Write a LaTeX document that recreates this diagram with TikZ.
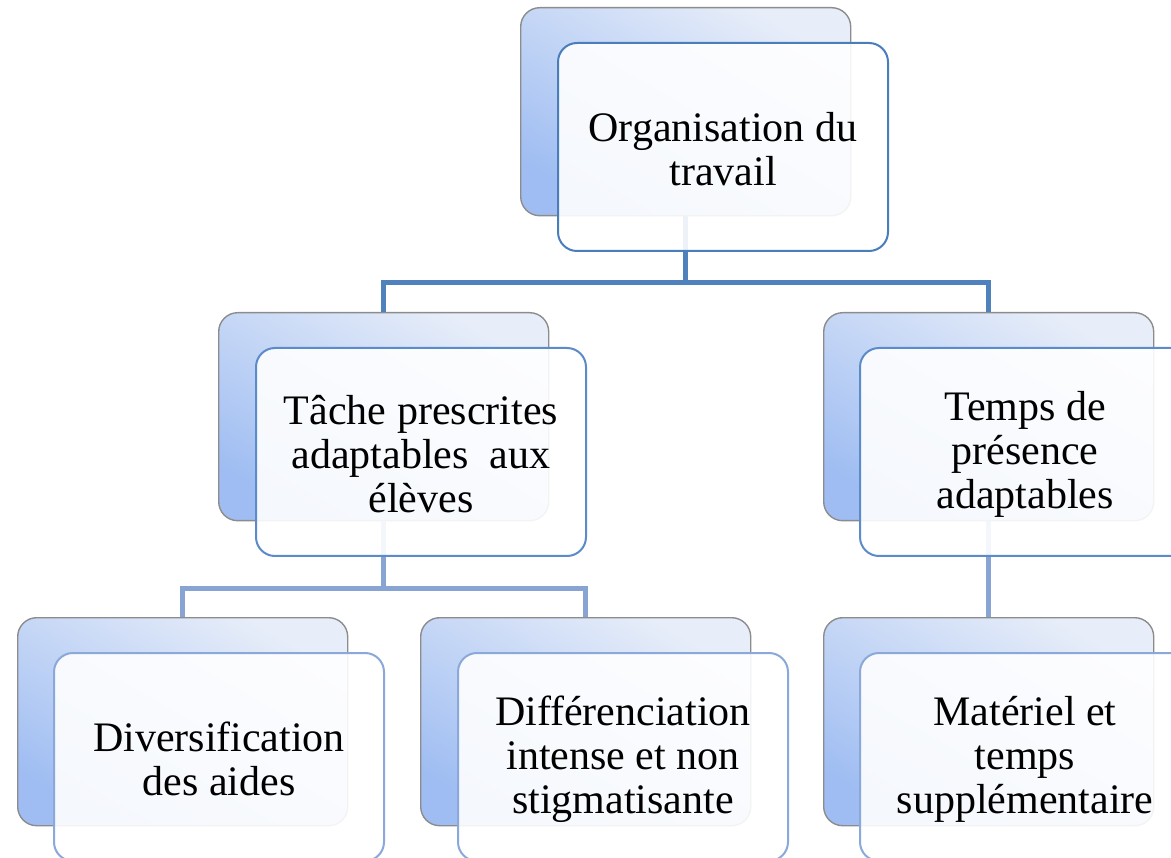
\documentclass[tikz,border=0pt]{standalone}
\usepackage{fontspec}
\setmainfont{Liberation Serif}
\definecolor{bkdark}{HTML}{9FBDF2}
\definecolor{bklight}{HTML}{E8EEF9}
\definecolor{bkedge}{HTML}{8C8C8C}
\definecolor{frA}{HTML}{4A7EBB}
\definecolor{frB}{HTML}{5C8BC9}
\definecolor{frC}{HTML}{8AA8DA}
\definecolor{cnA}{HTML}{4F81BD}
\definecolor{cnB}{HTML}{88A4D2}
\tikzset{
  backbox/.style={draw=bkedge, line width=1.4pt, rounded corners=19pt,
    top color=bklight, bottom color=bkdark, shading angle=-30,
    minimum width=330pt, minimum height=208pt, anchor=north west, inner sep=0pt},
  frontbox/.style={draw=#1, line width=2pt, rounded corners=19pt,
    fill=white, fill opacity=0.9, text opacity=1,
    minimum width=330pt, minimum height=208pt, anchor=north west, inner sep=0pt},
  label/.style={align=center, font=\fontsize{42}{44}\selectfont, inner sep=0pt},
  connA/.style={draw=cnA, line width=5pt},
  connB/.style={draw=cnB, line width=5pt},
}
\begin{document}
\begin{tikzpicture}[x=1pt,y=-1pt]
\useasboundingbox (0,0) rectangle (1171,858);
\clip (0,0) rectangle (1171,858);
% back boxes
\node[backbox] (topB) at (520,7) {};
\node[backbox] (mlB) at (218,312) {};
\node[backbox] (mrB) at (823,312) {};
\node[backbox] (blB) at (17,617) {};
\node[backbox] (bmB) at (420,617) {};
\node[backbox] (brB) at (823,617) {};
% connectors
\draw[connA] (topB.south) -- (topB.south |- 0,283) -| (mlB.north);
\draw[connA] (topB.south |- 0,283) -| (mrB.north);
\draw[connB] (mlB.south) -- (mlB.south |- 0,588) -| (blB.north);
\draw[connB] (mlB.south |- 0,588) -| (bmB.north);
\draw[connB] (mrB.south) -- (brB.north);
% front boxes
\node[frontbox=frA] (top) at (557,42) {};
\node[frontbox=frB] (ml) at (255,347) {};
\node[frontbox=frB] (mr) at (859,347) {};
\node[frontbox=frC] (bl) at (53,652) {};
\node[frontbox=frC] (bm) at (457,652) {};
\node[frontbox=frC] (br) at (859,652) {};
% texts
\node[label] (topT) at ([yshift=-2pt]top.center) {Organisation du\\travail};
\node[label] (mlT) at ([yshift=-2pt]ml.center) {Tâche prescrites\\adaptables\ \ aux\\élèves};
\node[label] (mrT) at ([yshift=-2pt]mr.center) {Temps de\\présence\\adaptables};
\node[label] (blT) at ([yshift=-2pt]bl.center) {Diversification\\des aides};
\node[label] (bmT) at ([yshift=-2pt]bm.center) {Différenciation\\intense et non\\stigmatisante};
\node[label] (brT) at ([yshift=-2pt]br.center) {Matériel et\\temps\\supplémentaire};
\end{tikzpicture}
\end{document}
